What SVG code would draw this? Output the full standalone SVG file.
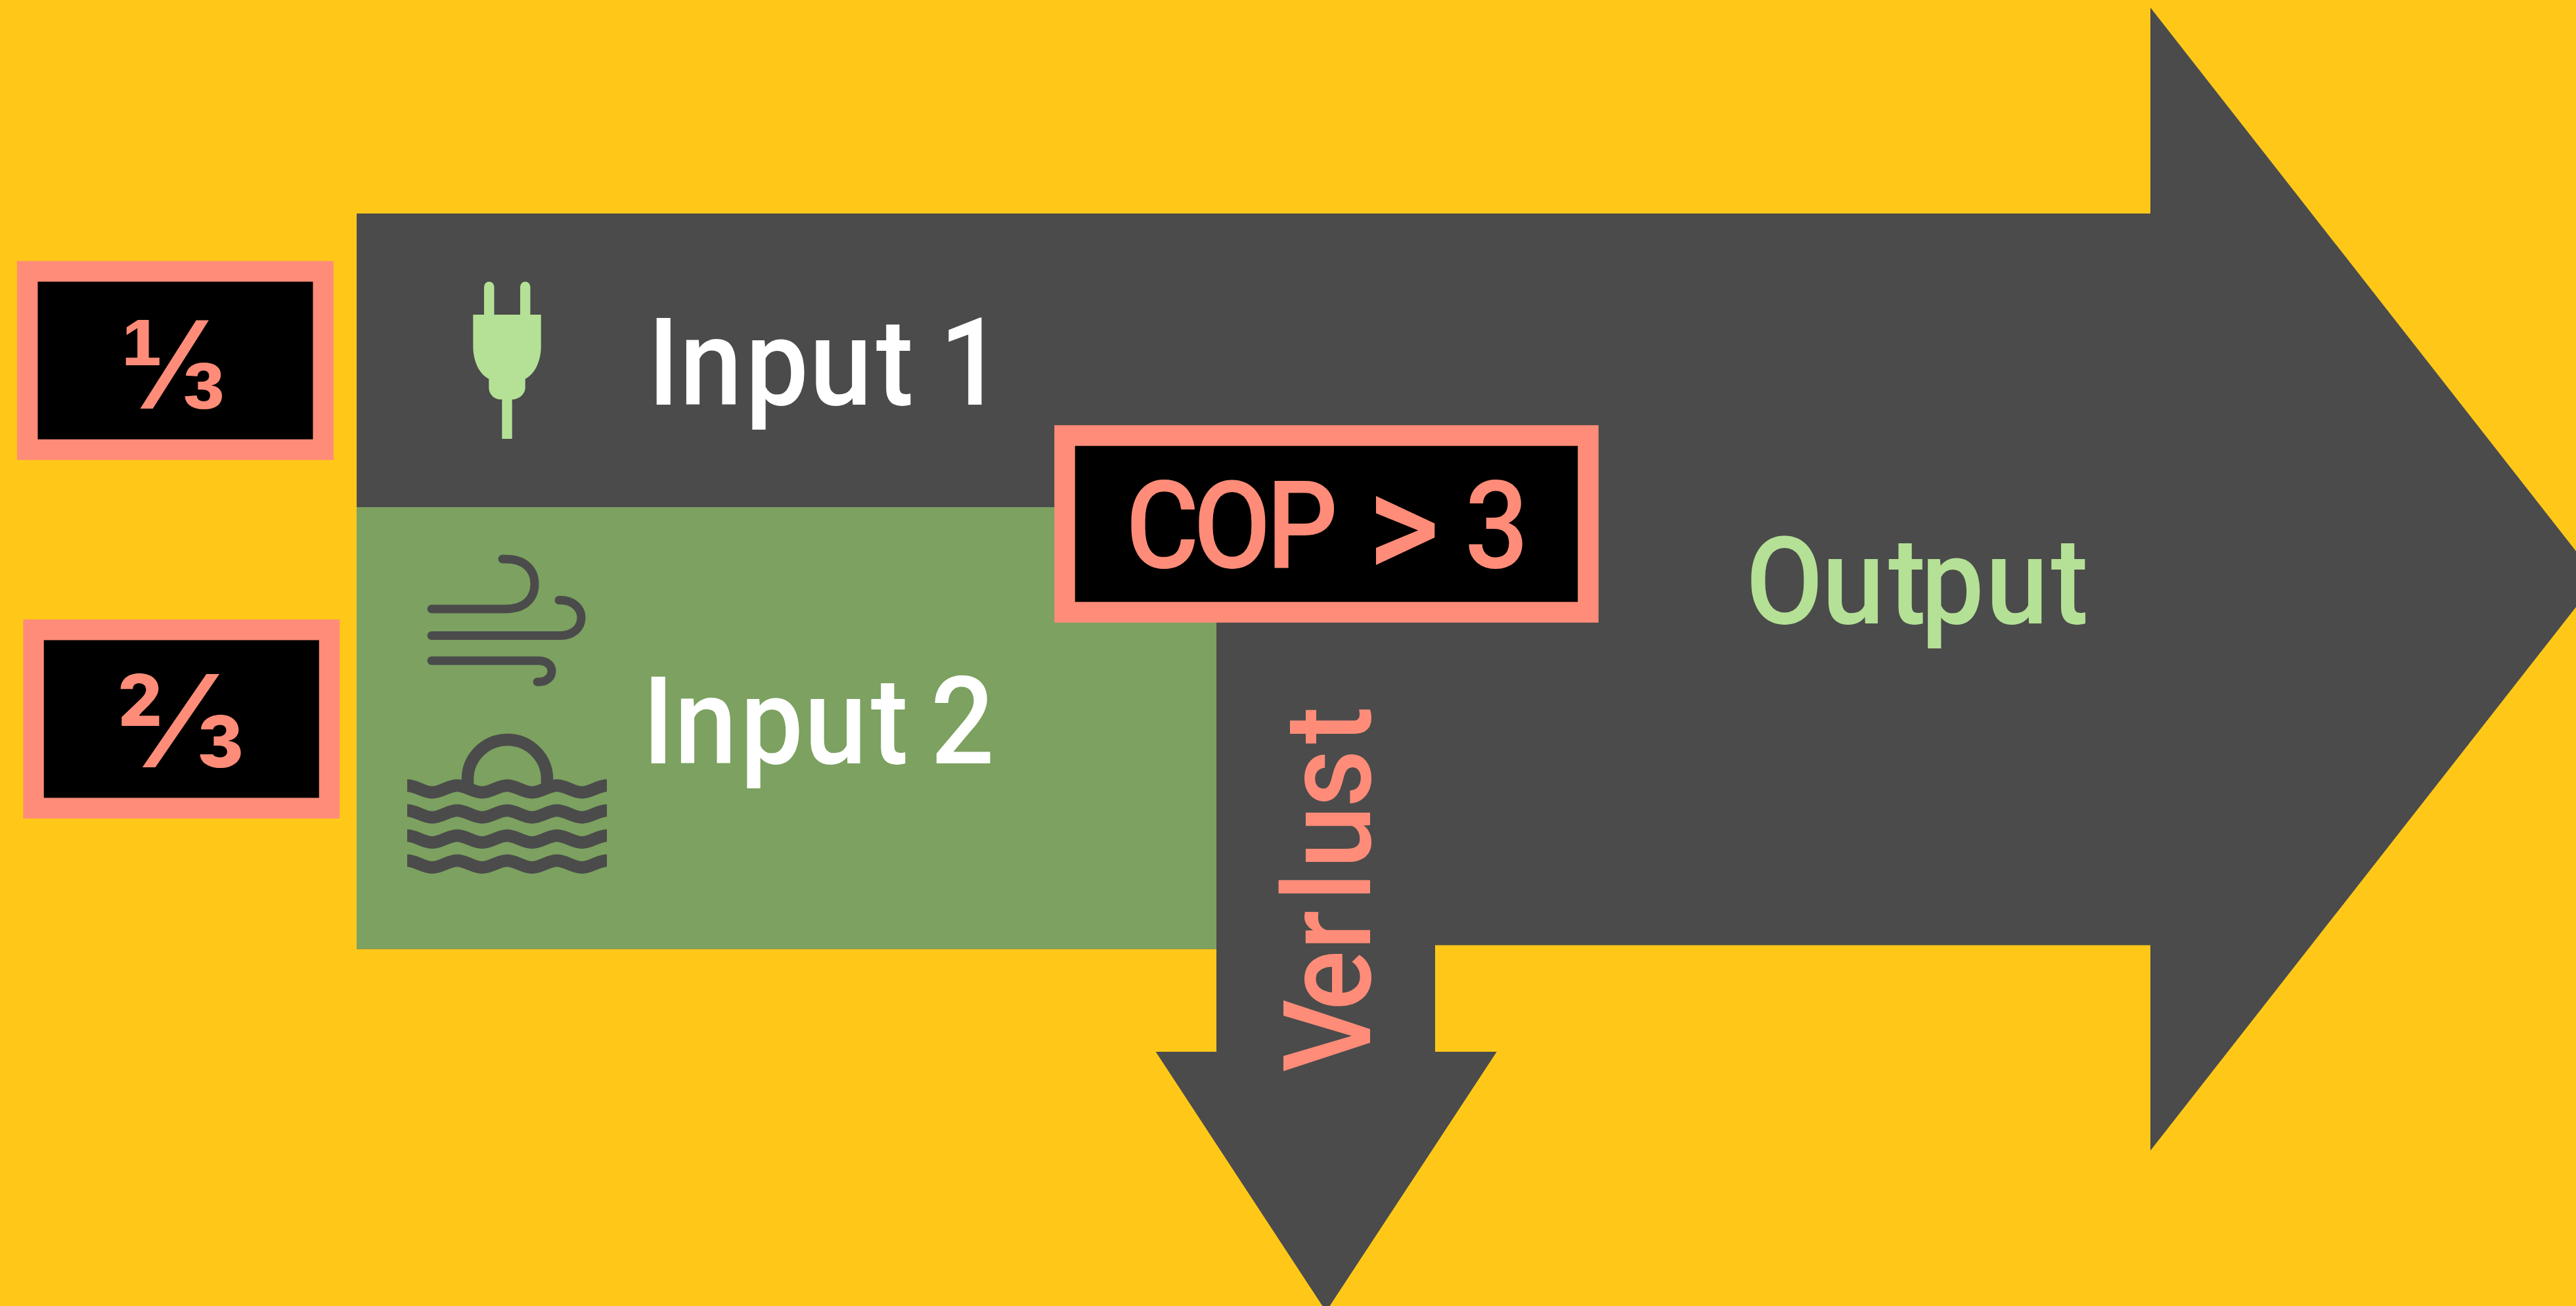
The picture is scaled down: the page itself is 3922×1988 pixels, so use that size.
<svg xmlns="http://www.w3.org/2000/svg" xmlns:xlink="http://www.w3.org/1999/xlink" width="3922" height="1988" viewBox="0 0 3922 1988">
<style>
.box{fill:#000;stroke:#ff8c78;stroke-width:31.500}
.t{font-family:"Roboto","Liberation Sans",sans-serif;font-weight:500;font-size:186px}
.frac{font-weight:700;font-size:195px;fill:#ff8c78;text-anchor:middle}
.ink{fill:none;stroke:#4b4b4b;stroke-width:13;stroke-linecap:round}
.wave{fill:none;stroke:#4b4b4b;stroke-width:19}
</style>
<defs><path id="w" d="M620 0C633 0 645 10.500 658 10.500S683 0 696 0S721 10.500 734 10.500S759 0 772 0S797 10.500 810 10.500S835 0 848 0S873 10.500 886 10.500S911 0 924 0"/></defs>
<rect width="3922" height="1988" fill="#ffc819"/>
<g id="connectors">
<path id="main-arrow" d="M543 325H3274V11.500L3922 839V924L3274 1751.500V1438.700H2185V1601H2278.800L2024.500 1988H2013.500L1759.600 1601H1852V1444.500H543Z" fill="#4b4b4b"/>
<rect id="green" x="543" y="772" width="1309" height="672.500" fill="#7ca160"/>
</g>
<g id="node-third1"><rect class="box" x="41.700" y="413" width="450.500" height="271.500"/><text class="frac" style="font-family:'Liberation Sans',sans-serif" x="264" y="622">⅓</text></g>
<g id="node-third2"><rect class="box" x="51" y="958.700" width="450.500" height="271.500"/><text class="frac" style="font-family:'Inter',sans-serif" x="275" y="1168">⅔</text></g>
<g id="node-cop"><rect class="box" x="1621" y="663" width="797" height="269"/><text class="t" transform="matrix(.92 0 0 1 1714 864)" fill="#ff8c78"><tspan x="0 112 233 300">COP </tspan><tspan x="400" dy="15" font-size="230">&gt;</tspan><tspan x="532" dy="-15" font-size="100"> </tspan><tspan x="561">3</tspan></text></g>
<g id="node-input1"><text class="t" transform="matrix(.92 0 0 1 986 616)" fill="#fff" x="0 53 162 268 378 430 483">Input 1</text>
<path d="M737 479V436.500a7.700 7.700 0 0 1 15.400 0V479H792V436.500a7.700 7.700 0 0 1 15.400 0V479H823.700V527C823.700 550 814 570 799.700 576.700V590C799.700 600 790 608 780 608H779.700V668H764.300V608H762C752 608 744.300 600 744.300 590V576.700C730 570 720.300 550 720.300 527V479Z" fill="#b4e196"/></g>
<g id="node-input2"><text class="t" transform="matrix(.92 0 0 1 978 1162)" fill="#fff" x="0 53 162 268 378 430 477">Input 2</text>
<path class="ink" d="M657 927H770C800 927 814 910 814 889C814 868 800 851 770 851H765M657 967.500H853C872 967.500 885 956 885 940C885 925 872 913.600 853 913.600H851M657 1005.700H820C832 1005.700 840 1012 840 1021.500C840 1031 832 1038 820 1038H818"/>
<use href="#w" class="wave" y="1195.700"/><use href="#w" class="wave" y="1233.800"/><use href="#w" class="wave" y="1272"/><use href="#w" class="wave" y="1310"/>
<path d="M712 1196V1186A60.500 60 0 0 1 833 1186V1196" fill="none" stroke="#4b4b4b" stroke-width="18.500"/></g>
<g id="node-output"><text class="t" transform="matrix(.92 0 0 1 2658 949)" fill="#b4e196" x="0 126 236 290 397 505">Output</text></g>
<g id="node-verlust"><text class="t" transform="matrix(0 -.92 1 0 2086 1632)" fill="#ff8c78" x="0 102 202 283 337 438 543">Verlust</text></g>
</svg>
